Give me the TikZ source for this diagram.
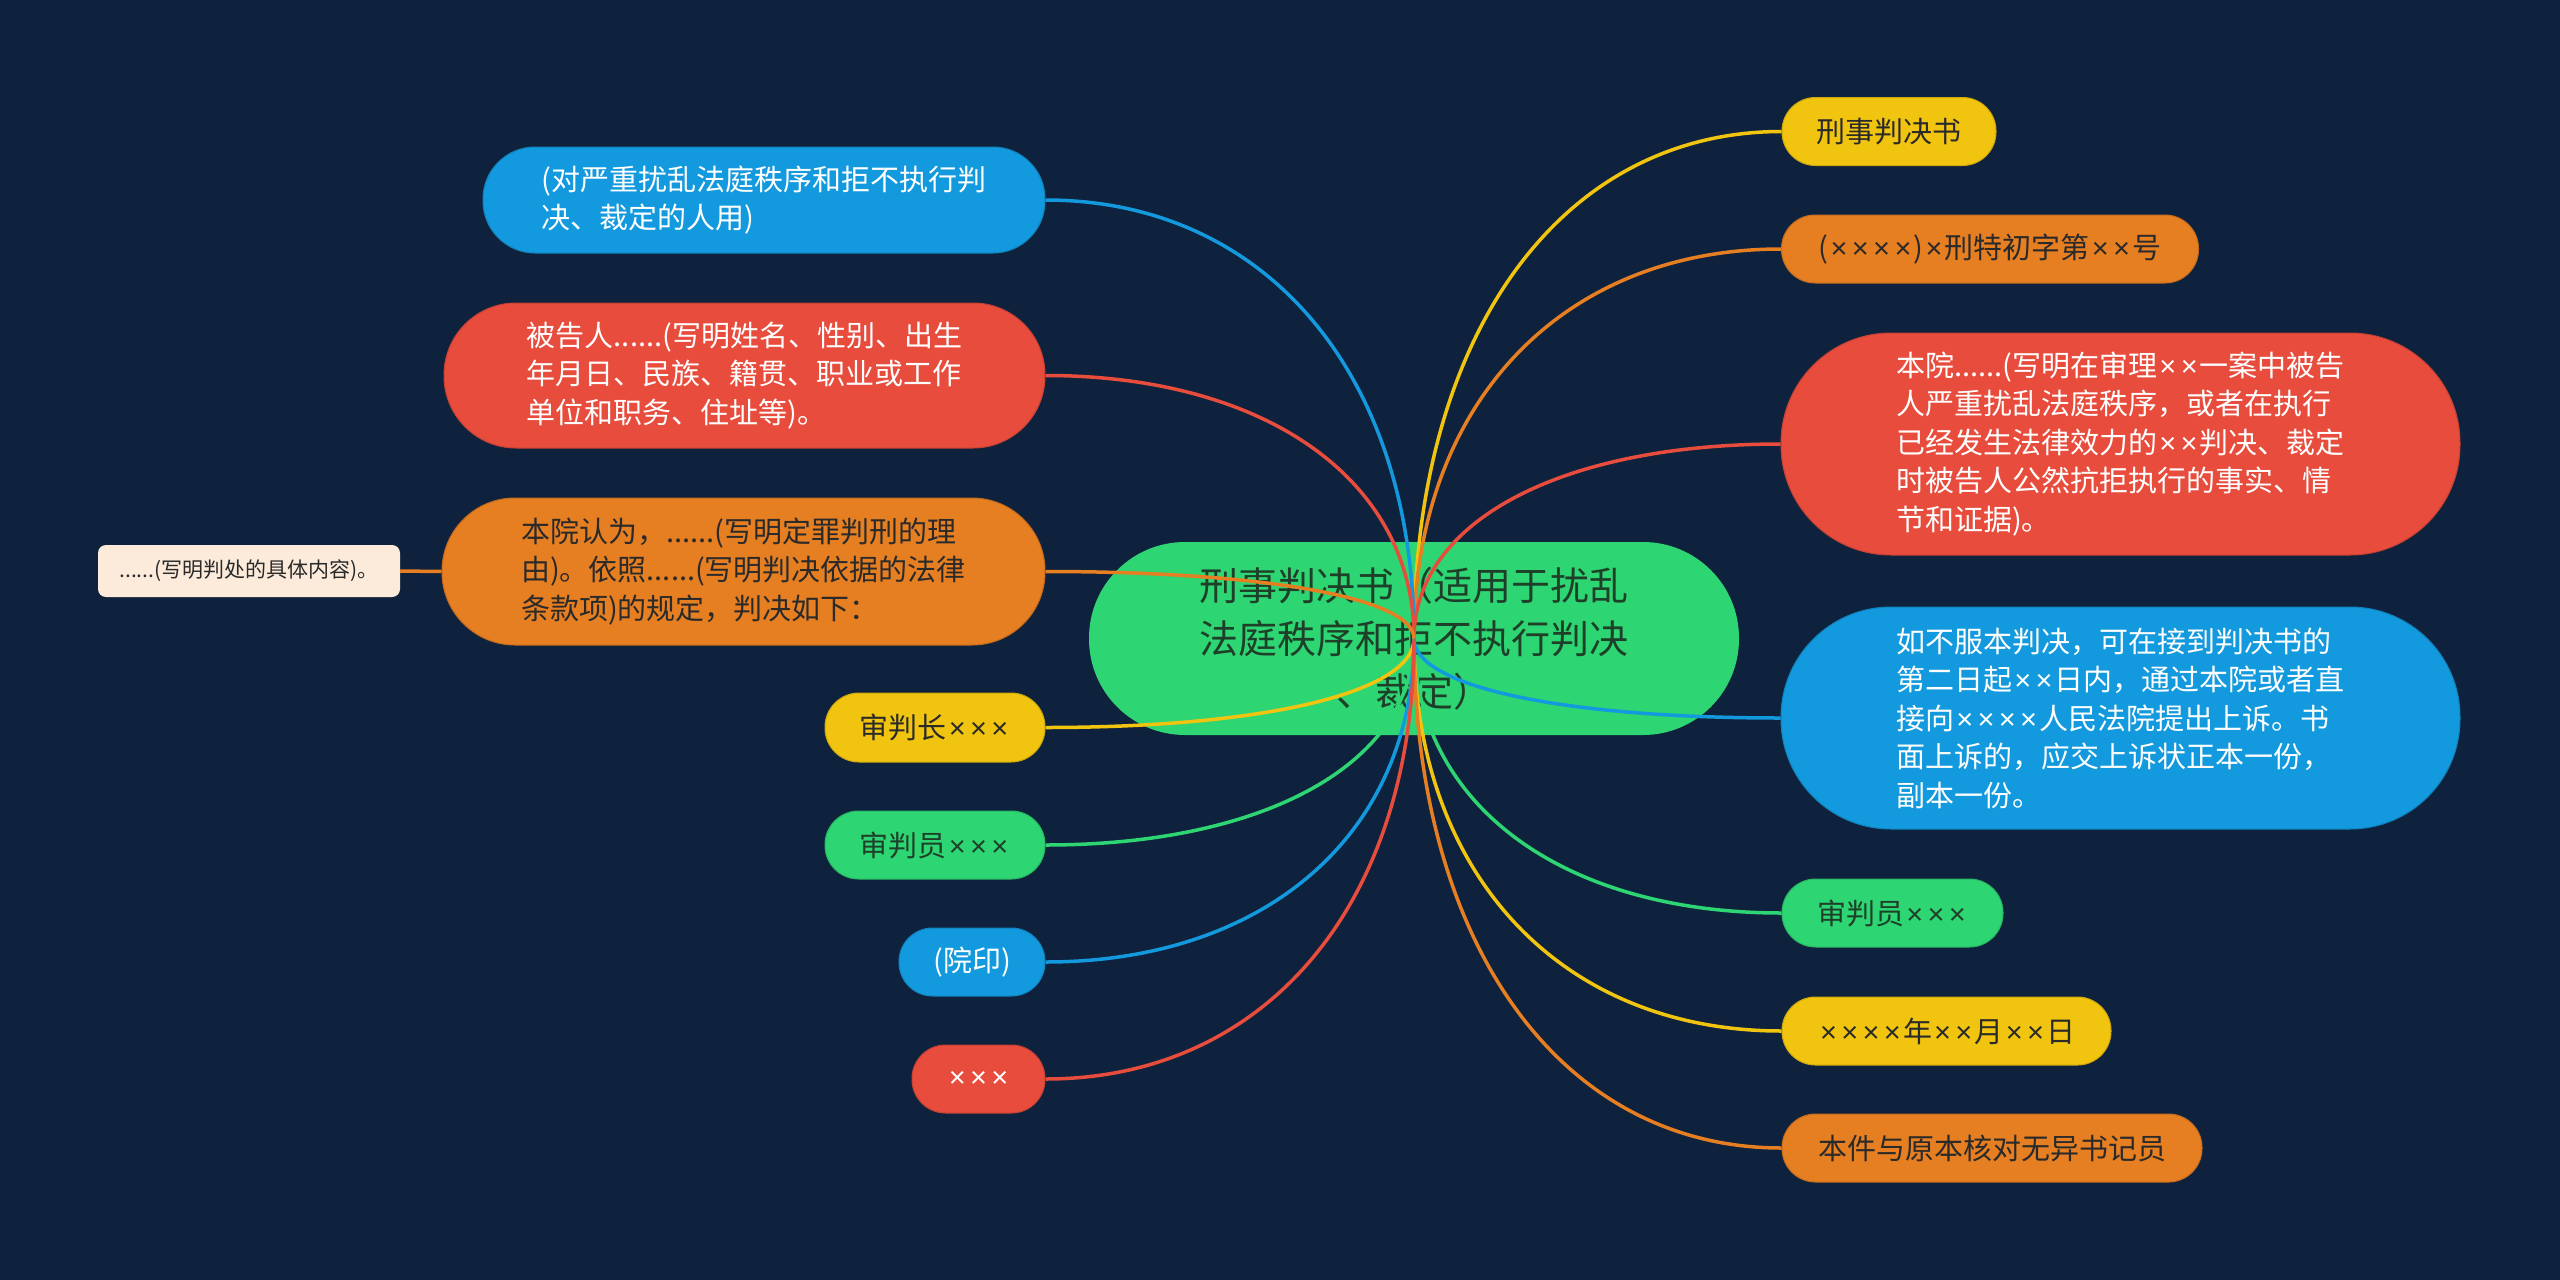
\documentclass[tikz,border=0pt]{standalone}
\usepackage{fontspec}
\setmainfont{Noto Sans CJK SC}
\newfontfamily\latf{Liberation Sans}
\newcommand\xx{\kern0.075em{\latf ×}\kern0.075em}
\usetikzlibrary{calc}
\definecolor{bgc}{HTML}{0F223D}
\definecolor{gc}{HTML}{2ED573}
\definecolor{yc}{HTML}{F1C40F}
\definecolor{oc}{HTML}{E67E22}
\definecolor{rc}{HTML}{E74C3C}
\definecolor{bc}{HTML}{1399DD}
\definecolor{cc}{HTML}{FCEBDB}
\definecolor{dk}{HTML}{2A2A2A}
\definecolor{dg}{HTML}{1E4029}
\tikzset{
  box/.style={rectangle, inner sep=0pt, align=left, font={\fontsize{29pt}{38.5pt}\selectfont}},
  link/.style={line width=3.5pt},
}
\newcommand\linkto[2]{\draw[link,#1] let \p1=(c.center), \p2=(#2) in (\p1) .. controls (\x1,{\y1+0.6*(\y2-\y1)}) and ({\x1+0.4*(\x2-\x1)},\y2) .. (\p2);}
\begin{document}
\begin{tikzpicture}[x=1pt,y=-1pt]
\useasboundingbox (0,0) rectangle (2560,1280);
\fill[bgc] (0,0) rectangle (2560,1280);
% center
\node[rectangle, inner sep=0pt, align=center, fill=gc, text=dg, minimum width=650pt, minimum height=193pt, rounded corners=96pt, font={\fontsize{39pt}{53pt}\selectfont}] (c) at (1414,638.5) {刑事判决书（适用于扰乱\\法庭秩序和拒不执行判决\\、裁定）};
% right nodes
\node[box, fill=yc, text=dk, draw=yc!85!black, line width=1pt, minimum width=214pt, minimum height=68pt, rounded corners=33.5pt, align=center] (r1) at (1889,131.5) {刑事判决书};
\node[box, fill=oc, text=dk, draw=oc!85!black, line width=1pt, minimum width=417pt, minimum height=68pt, rounded corners=33.5pt, align=center] (r2) at (1990,249) {(\xx\xx\xx\xx{})\xx{}刑特初字第\xx\xx{}号};
\node[box, fill=rc, text=white, draw=rc!85!black, line width=1pt, minimum width=679pt, minimum height=222pt, rounded corners=110pt] (r3) at (2120.5,444) {本院......(写明在审理\xx\xx{}一案中被告\\人严重扰乱法庭秩序，或者在执行\\已经发生法律效力的\xx\xx{}判决、裁定\\时被告人公然抗拒执行的事实、情\\节和证据)。};
\node[box, fill=bc, text=white, draw=bc!85!black, line width=1pt, minimum width=679pt, minimum height=222pt, rounded corners=110pt] (r4) at (2120.5,718) {如不服本判决，可在接到判决书的\\第二日起\xx\xx{}日内，通过本院或者直\\接向\xx\xx\xx\xx{}人民法院提出上诉。书\\面上诉的，应交上诉状正本一份，\\副本一份。};
\node[box, fill=gc, text=dg, draw=gc!85!black, line width=1pt, minimum width=221pt, minimum height=68pt, rounded corners=33.5pt, align=center] (r5) at (1892.5,913) {审判员\xx\xx\xx{}};
\node[box, fill=yc, text=dk, draw=yc!85!black, line width=1pt, minimum width=329pt, minimum height=68pt, rounded corners=33.5pt, align=center] (r6) at (1946.5,1031) {\xx\xx\xx\xx{}年\xx\xx{}月\xx\xx{}日};
\node[box, fill=oc, text=dk, draw=oc!85!black, line width=1pt, minimum width=420pt, minimum height=68pt, rounded corners=33.5pt, align=center] (r7) at (1992,1148) {本件与原本核对无异书记员};
% left nodes
\node[box, fill=bc, text=white, draw=bc!85!black, line width=1pt, minimum width=562pt, minimum height=106pt, rounded corners=52pt] (l1) at (764,200) {(对严重扰乱法庭秩序和拒不执行判\\决、裁定的人用)};
\node[box, fill=rc, text=white, draw=rc!85!black, line width=1pt, minimum width=601pt, minimum height=145pt, rounded corners=72pt] (l2) at (744.5,375.5) {被告人......(写明姓名、性别、出生\\年月日、民族、籍贯、职业或工作\\单位和职务、住址等)。};
\node[box, fill=oc, text=dk, draw=oc!85!black, line width=1pt, minimum width=603pt, minimum height=147pt, rounded corners=73pt] (l3) at (743.5,571.5) {本院认为，......(写明定罪判刑的理\\由)。依照......(写明判决依据的法律\\条款项)的规定，判决如下：};
\node[rectangle, inner sep=0pt, fill=cc, text=dk, minimum width=302pt, minimum height=52pt, rounded corners=8pt, font={\fontsize{21pt}{26pt}\selectfont}] (l4) at (249,571) {......(写明判处的具体内容)。};
\node[box, fill=yc, text=dk, draw=yc!85!black, line width=1pt, minimum width=220pt, minimum height=69pt, rounded corners=34pt, align=center] (l5) at (935,727.5) {审判长\xx\xx\xx{}};
\node[box, fill=gc, text=dg, draw=gc!85!black, line width=1pt, minimum width=220pt, minimum height=68pt, rounded corners=33.5pt, align=center] (l6) at (935,845) {审判员\xx\xx\xx{}};
\node[box, fill=bc, text=white, draw=bc!85!black, line width=1pt, minimum width=146pt, minimum height=68pt, rounded corners=33.5pt, align=center] (l7) at (972,962) {(院印)};
\node[box, fill=rc, text=white, draw=rc!85!black, line width=1pt, minimum width=133pt, minimum height=68pt, rounded corners=33.5pt, align=center] (l8) at (978.5,1079) {\xx\xx\xx{}};
% connectors
\linkto{yc}{r1.west}
\linkto{oc}{r2.west}
\linkto{rc}{r3.west}
\linkto{bc}{r4.west}
\linkto{gc}{r5.west}
\linkto{yc}{r6.west}
\linkto{oc}{r7.west}
\linkto{bc}{l1.east}
\linkto{rc}{l2.east}
\linkto{oc}{l3.east}
\linkto{yc}{l5.east}
\linkto{gc}{l6.east}
\linkto{bc}{l7.east}
\linkto{rc}{l8.east}
\draw[link,oc] (l4.east) -- (l3.west);
\end{tikzpicture}
\end{document}
